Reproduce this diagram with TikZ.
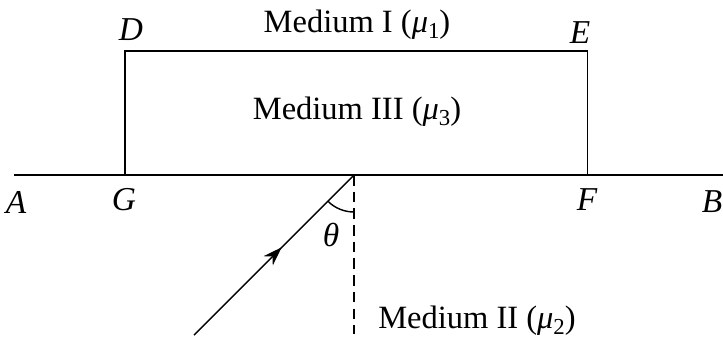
\documentclass[tikz,border=0pt]{standalone}
\usepackage{fontspec}
\setmainfont{Liberation Serif}
\usetikzlibrary{arrows.meta,positioning,calc,angles,decorations.markings}
\newcommand{\med}[2]{Medium #1 (\textit{μ}\raisebox{-0.35ex}{\fontsize{13}{13}\selectfont #2})}
\tikzset{
  >=Stealth,
  edge/.style  ={line width=0.8pt,black},
  normal/.style={line width=0.8pt,dashed,dash pattern=on 6pt off 3.5pt},
  ray/.style   ={line width=0.8pt,postaction={decorate},
                 decoration={markings,mark=at position 0.55 with
                 {\arrow{Stealth[length=3.8mm,width=2.6mm]}}}},
  lbl/.style   ={font=\fontsize{19}{22}\selectfont\itshape,inner sep=1pt},
  txt/.style   ={font=\fontsize{18.5}{22}\selectfont,inner sep=1pt},
}
\begin{document}
\begin{tikzpicture}
\useasboundingbox (0,0) rectangle (14.46,6.8);
% interface and slab
\coordinate (a) at (0.28,3.3);
\coordinate (b) at (14.46,3.3);
\coordinate (g) at (2.5,3.3);
\coordinate (d) at (2.5,5.78);
\coordinate (e) at (11.75,5.78);
\coordinate (f) at (11.75,3.3);
\coordinate (o) at (7.08,3.3);
\draw[edge] (a) -- (b);
\draw[edge] (g) -- (d) -- (e) -- (f);
% incident ray and normal
\coordinate (s) at (3.88,0.1);
\coordinate (n) at (7.08,0.12);
\draw[normal] (o) -- (n);
\draw[ray] (s) -- (o);
\pic[draw,line width=0.8pt,angle radius=0.74cm] {angle=s--o--n};
% labels
\node[lbl] (la) at (0.32,2.76) {A};
\node[lbl] (lg) at (2.48,2.8) {G};
\node[lbl] (lf) at (11.74,2.8) {F};
\node[lbl] (lb) at (14.24,2.76) {B};
\node[lbl] (ld) at (2.62,6.2) {D};
\node[lbl] (le) at (11.6,6.14) {E};
\node[lbl] (th) at (6.62,2.1) {θ};
\node[txt] (m1) at (7.14,6.3) {\med{I}{1}};
\node[txt] (m3) at (7.14,4.56) {\med{III}{3}};
\node[txt] (m2) at (9.54,0.38) {\med{II}{2}};
\end{tikzpicture}
\end{document}
